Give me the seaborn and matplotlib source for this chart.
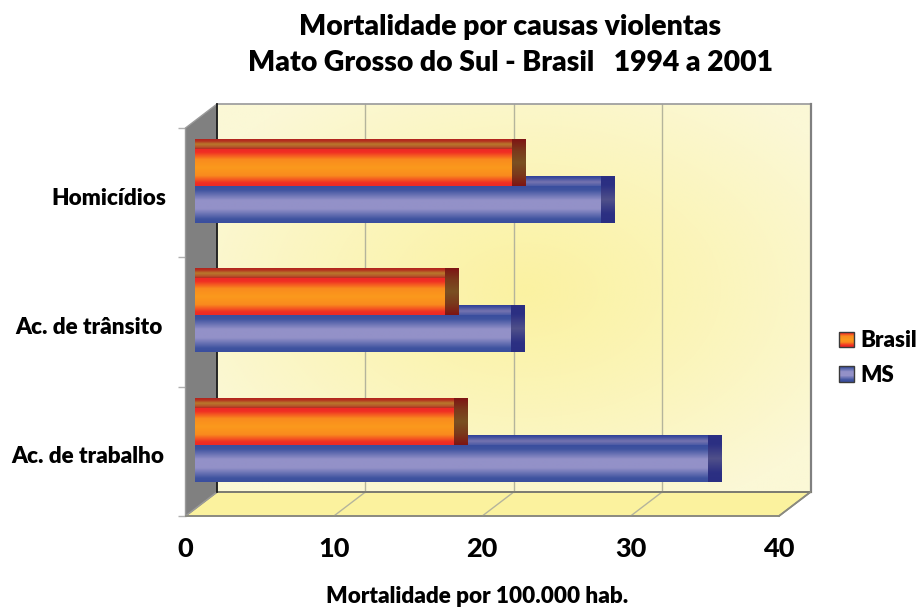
import numpy as np
import pandas as pd
import matplotlib
matplotlib.use("Agg")
import matplotlib.pyplot as plt
import seaborn as sns
from matplotlib.colors import to_rgb
from matplotlib.legend_handler import HandlerBase
from matplotlib.patches import Polygon, Rectangle
from matplotlib.transforms import Affine2D, ScaledTranslation

# Rates per 100,000 inhabitants
categories = ["Homicídios", "Ac. de trânsito", "Ac. de trabalho"]
brasil = [21.35, 16.85, 17.45]
ms = [27.35, 21.3, 34.6]
series_names = ["Brasil", "MS"]
xticks = [0, 10, 20, 30, 40]

FONT = "Lato"
WEIGHT = "heavy"
W, H = 918, 607
AX_L, AX_R, AX_T, AX_B = 185.5, 779.0, 128.0, 516.0
UX = 40 / (AX_R - AX_L)          # data units per pixel, horizontal
UY = 3 / (AX_B - AX_T)           # data units per pixel, vertical
WALL_DX, WALL_DY = 31.5 * UX, 24 * UY
BAR_DX, BAR_DY = 9.5 * UX, 6.6 * UY
SIDE_DX, SIDE_DY = 13.5 * UX, 10 * UY
BAR_H = 37 * UY


def ramp(stops):
    """Vertical colour ramp from (position, colour) stops."""
    pos = [p for p, _ in stops]
    rgb = np.array([to_rgb(c) for _, c in stops])
    t = np.linspace(0, 1, 64)
    return np.stack([np.interp(t, pos, rgb[:, i]) for i in range(3)], axis=1)[:, None, :]


FRONT = {
    "Brasil": ramp([(0, "#EE2A24"), (0.08, "#F02E24"), (0.28, "#F98B1E"), (0.5, "#FB991C"),
                    (0.72, "#F98B1E"), (0.92, "#F02E24"), (1, "#EE2A24")]),
    "MS": ramp([(0, "#3A4E9E"), (0.1, "#3F539F"), (0.38, "#9391C8"), (0.62, "#9391C8"),
                (0.9, "#3F539F"), (1, "#3A4E9E")]),
}
TOP = {
    "Brasil": ramp([(0, "#B2241E"), (0.2, "#B5301F"), (0.5, "#B9792C"), (0.8, "#B5562A"), (1, "#B32A22")]),
    "MS": ramp([(0, "#2F3F98"), (0.2, "#3F4E9F"), (0.6, "#7674B0"), (1, "#4B5AA5")]),
}
SIDE = {
    "Brasil": ramp([(0, "#7E1514"), (0.25, "#7A3A1C"), (0.5, "#7A5022"), (0.75, "#7A3A1C"), (1, "#7E1514")]),
    "MS": ramp([(0, "#2A2E82"), (0.2, "#2C3083"), (0.5, "#50508A"), (0.8, "#2C3083"), (1, "#2A2E82")]),
}


class GradientHandler(HandlerBase):
    """Legend key made of thin stacked strips following a colour ramp."""

    def __init__(self, colors):
        super().__init__()
        self.colors = colors

    def create_artists(self, legend, orig, xd, yd, width, height, fontsize, trans):
        n = len(self.colors)
        strips = [Rectangle((-xd, -yd + height * i / n), width, height / n + 0.2,
                            fc=self.colors[i, 0], ec="none", transform=trans) for i in range(n)]
        strips.append(Rectangle((-xd, -yd), width, height, fc="none", ec="#3A3A3A", lw=1.0, transform=trans))
        return strips


sns.set_theme(style="white")
plt.rcParams["font.family"] = [FONT, "DejaVu Sans"]
fig = plt.figure(figsize=(W / 100, H / 100), dpi=100, facecolor="white")
ax = fig.add_axes([AX_L / W, 1 - AX_B / H, (AX_R - AX_L) / W, (AX_B - AX_T) / H], facecolor="none")

df = pd.DataFrame({
    "causa": categories * 2,
    "taxa": brasil + ms,
    "serie": [series_names[0]] * 3 + [series_names[1]] * 3,
})
sns.barplot(data=df, y="causa", x="taxa", hue="serie", hue_order=series_names, orient="h",
            width=2 * BAR_H, gap=0, dodge=True, legend=False, ax=ax,
            palette={"Brasil": "#FB991C", "MS": "#9391C8"}, saturation=1)
ax.set_xlim(0, 40)
ax.set_ylim(2.5, -0.5)
ax.set_autoscale_on(False)

# Back wall with its soft central glow
yy, xx = np.mgrid[0:1:200j, 0:1:300j]
r = np.clip(np.hypot((xx - 0.52) / 0.62, (yy - 0.48) / 0.62), 0, 1) ** 1.1
c_in, c_out = np.array(to_rgb("#FBF2A2")), np.array(to_rgb("#FBF8D6"))
glow = c_in + (c_out - c_in) * r[..., None]
ax.imshow(glow, extent=(WALL_DX, 40 + WALL_DX, 2.5 - WALL_DY, -0.5 - WALL_DY), aspect="auto",
          interpolation="bilinear", zorder=0.5, clip_on=False)

# Floor and side wall of the box
ax.add_patch(Polygon([(0, 2.5), (WALL_DX, 2.5 - WALL_DY), (40 + WALL_DX, 2.5 - WALL_DY), (40, 2.5)],
                     fc="#FBF29E", ec="#8A8A80", lw=1.2, zorder=0.6, clip_on=False))
ax.add_patch(Polygon([(0, -0.5), (WALL_DX, -0.5 - WALL_DY), (WALL_DX, 2.5 - WALL_DY), (0, 2.5)],
                     fc="#808080", ec="#9A9A9A", lw=1.0, zorder=0.7, clip_on=False))

# Grid on wall and floor
for v in xticks[1:-1]:
    ax.plot([v + WALL_DX] * 2, [-0.5 - WALL_DY, 2.5 - WALL_DY], color="#B4B49C", lw=1, zorder=0.8, clip_on=False)
    ax.plot([v, v + WALL_DX], [2.5, 2.5 - WALL_DY], color="#B4B49C", lw=1, zorder=0.8, clip_on=False)

# Wall outline
edge = dict(solid_capstyle="projecting", clip_on=False, zorder=0.9)
ax.plot([WALL_DX, 40 + WALL_DX], [-0.5 - WALL_DY] * 2, color="#A0A0A0", lw=1.3, **edge)
ax.plot([40 + WALL_DX] * 2, [-0.5 - WALL_DY, 2.5 - WALL_DY], color="#808080", lw=1.6, **edge)
ax.plot([WALL_DX, 40 + WALL_DX], [2.5 - WALL_DY] * 2, color="#7A7A70", lw=1.3, **edge)
ax.plot([WALL_DX] * 2, [-0.5 - WALL_DY, 2.5 - WALL_DY], color="#101010", lw=1.2, **edge)
ax.plot([40 + WALL_DX, 40], [2.5 - WALL_DY, 2.5], color="#8A8A80", lw=1.2, **edge)

# Shaded faces on top of the bars seaborn laid out
face_shift = Affine2D().translate(BAR_DX, -BAR_DY) + ax.transData
for name, container, z in zip(series_names, ax.containers, (4, 3)):
    for bar in container:
        x_end = bar.get_width()
        y0, y1 = bar.get_y(), bar.get_y() + bar.get_height()
        bar.set_visible(False)
        ax.imshow(TOP[name], extent=(0, x_end + SIDE_DX / 2, y0, y0 - SIDE_DY), aspect="auto",
                  interpolation="bilinear", transform=face_shift, zorder=z, clip_on=False)
        ax.imshow(FRONT[name], extent=(0, x_end, y1, y0), aspect="auto",
                  interpolation="bilinear", transform=face_shift, zorder=z + 0.1, clip_on=False)
        ax.imshow(SIDE[name], extent=(x_end, x_end + SIDE_DX, y1, y0 - SIDE_DY), aspect="auto",
                  interpolation="bilinear", transform=face_shift, zorder=z + 0.2, clip_on=False)

# Axes furniture
sns.despine(ax=ax, left=True, top=True, right=True, bottom=False)
ax.spines["bottom"].set_color("#8A8A80")
ax.spines["bottom"].set_linewidth(1.2)
ax.spines["bottom"].set_zorder(1)
ax.set_xticks(xticks)
ax.tick_params(axis="x", length=6, width=1, color="#B0B0B0", pad=9, labelsize=19.5, labelcolor="black")
ax.set_xticklabels([str(t) for t in xticks], fontweight="black", family=FONT)

ax.set_yticks(range(3))
ax.set_yticks([-0.5, 0.5, 1.5, 2.5], minor=True)
ax.tick_params(axis="y", which="minor", length=6, width=1, color="#B0B0B0", left=True)
ax.tick_params(axis="y", which="major", length=0, pad=0, labelsize=16.2, labelcolor="black")
ax.set_yticklabels(categories, fontweight=WEIGHT, family=FONT)
label_right = (166, 163, 164)
for lab, right in zip(ax.get_yticklabels(), label_right):
    lab.set_transform(lab.get_transform() + ScaledTranslation((right - AX_L) / 100, -3.5 / 100, fig.dpi_scale_trans))

ax.set_ylabel("")
ax.set_xlabel("Mortalidade por 100.000 hab.", fontsize=16.2, fontweight=WEIGHT, color="black",
              x=(477 - AX_L) / (AX_R - AX_L), labelpad=18)
ax.set_title("Mortalidade por causas violentas\nMato Grosso do Sul - Brasil   1994 a 2001",
             fontsize=20.4, fontweight=WEIGHT, color="black", linespacing=1.45,
             x=(510 - AX_L) / (AX_R - AX_L), y=(AX_B - 84) / (AX_B - AX_T), va="bottom")

handles = [Rectangle((0, 0), 1, 1) for _ in series_names]
leg = ax.legend(handles, series_names, frameon=False, fontsize=16,
                handler_map={h: GradientHandler(FRONT[n][::4]) for h, n in zip(handles, series_names)},
                loc="center left", bbox_to_anchor=((839 - AX_L) / (AX_R - AX_L), (AX_B - 358) / (AX_B - AX_T)),
                handlelength=0.68, handleheight=0.68, handletextpad=0.28, labelspacing=0.6, borderpad=0,
                borderaxespad=0)
for t in leg.get_texts():
    t.set_fontweight(WEIGHT)
    t.set_color("black")

fig.savefig("out.png", dpi=100, facecolor="white")
